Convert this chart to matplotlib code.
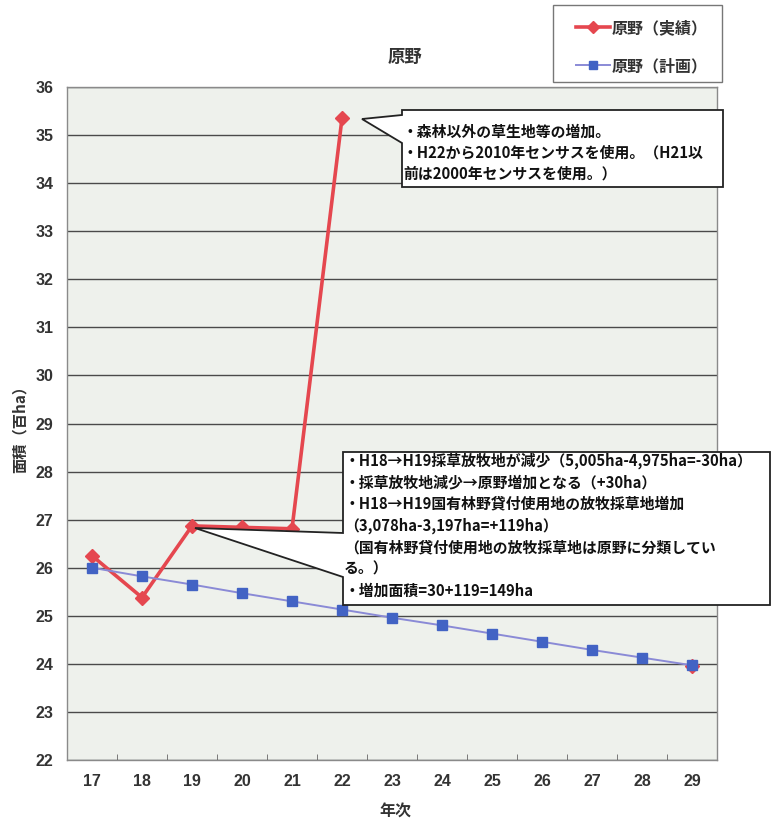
import numpy as np
import matplotlib
matplotlib.use("Agg")
import matplotlib.pyplot as plt
from matplotlib.patches import Polygon, Rectangle
from matplotlib.lines import Line2D

plt.rcParams['font.family'] = ['Noto Sans CJK JP', 'DejaVu Sans']

years = ['17', '18', '19', '20', '21', '22', '23', '24', '25', '26', '27', '28', '29']
actual = [26.25, 25.38, 26.87, 26.84, 26.81, 35.35, np.nan, np.nan, np.nan, np.nan, np.nan, np.nan, 23.95]
plan = [26.0, 25.82, 25.65, 25.47, 25.30, 25.13, 24.96, 24.80, 24.63, 24.46, 24.29, 24.13, 23.97]
yticks = list(range(22, 37))

title = '原野'
label_actual = '原野（実績）'
label_plan = '原野（計画）'
ylabel = '面積（百ha）'
xlabel = '年次'
note1 = ('・森林以外の草生地等の増加。\n'
         '・H22から2010年センサスを使用。（H21以\n'
         '前は2000年センサスを使用。）')
note2 = ('・H18→H19採草放牧地が減少（5,005ha-4,975ha=-30ha）\n'
         '・採草放牧地減少→原野増加となる（+30ha）\n'
         '・H18→H19国有林野貸付使用地の放牧採草地増加\n'
         '（3,078ha-3,197ha=+119ha）\n'
         '（国有林野貸付使用地の放牧採草地は原野に分類してい\n'
         'る。）\n'
         '・増加面積=30+119=149ha')

W, H = 771, 827
fig = plt.figure(figsize=(W / 100, H / 100), dpi=100)
fig.patch.set_facecolor('white')

L, R, T, B = 67, 717, 87, 760
ax = fig.add_axes([L / W, 1 - B / H, (R - L) / W, (B - T) / H])
ax.set_facecolor('#eef1ec')

x = np.arange(len(years))
red = '#e5474f'
blue_m = '#4263c4'
blue_l = '#8a8ad6'

ax.plot(x, actual, color=red, lw=2.6, marker='D', ms=7, mfc=red, mec=red, zorder=3)
ax.plot(x, plan, color=blue_l, lw=1.4, zorder=4)
ax.plot(x, plan, ls='none', marker='s', ms=7, mfc=blue_m, mec=blue_m, zorder=5)

ax.set_xlim(-0.5, len(years) - 0.5)
ax.set_ylim(22, 36)
ax.set_yticks(yticks)
ax.set_yticklabels([str(v) for v in yticks], family='Liberation Sans', weight='bold',
                   fontsize=11.5, color='#333333')
ax.set_xticks(x)
ax.set_xticklabels(years, family='Liberation Sans', weight='bold', fontsize=11.5, color='#333333')
ax.set_xticks(np.arange(-0.5, len(years), 1.0), minor=True)
ax.tick_params(axis='x', which='major', length=0, pad=10)
ax.tick_params(axis='x', which='minor', length=4, direction='in', color='#666666')
ax.tick_params(axis='y', length=0, pad=10)
ax.grid(axis='y', color='#4a4a4a', lw=1.0, zorder=1)
ax.set_axisbelow(True)
for s in ax.spines.values():
    s.set_color('#8a8a8a')
    s.set_linewidth(1.0)


def px2ax(px, py):
    return ((px - L) / (R - L), (B - py) / (B - T))


def callout(box, wedge, tip, text, tx, ty, ls):
    l, t, r, b = box
    w1, w2 = wedge
    pts = [px2ax(l, t), px2ax(r, t), px2ax(r, b), px2ax(l, b),
           px2ax(l, w2), px2ax(*tip), px2ax(l, w1)]
    poly = Polygon(pts, closed=True, transform=ax.transAxes, facecolor='white',
                   edgecolor='#222222', lw=1.3, clip_on=False, zorder=6)
    ax.add_patch(poly)
    ax.text(*px2ax(tx, ty), text, transform=ax.transAxes, fontsize=10.7, weight='bold',
            color='#111111', va='top', ha='left', linespacing=ls, zorder=7, clip_on=False)


callout((402, 110, 723, 187), (115, 143), (362, 119), note1, 403, 124, 1.38)
callout((343, 452, 770, 605), (533, 577), (195, 528), note2, 344, 452, 1.43)

fig.text(405 / W, 1 - 57 / H, title, ha='center', va='center', fontsize=12.5,
         weight='bold', color='#333333')
fig.text(20 / W, 1 - 425 / H, ylabel, ha='center', va='center', rotation=90,
         fontsize=11, weight='bold', color='#333333')
fig.text(395 / W, 1 - 812 / H, xlabel, ha='center', va='center', fontsize=11.5,
         weight='bold', color='#333333')

# legend frame
fig.patches.append(Rectangle((553 / W, 1 - 82 / H), (722 - 553) / W, (82 - 5) / H,
                             transform=fig.transFigure, facecolor='white',
                             edgecolor='#777777', lw=1.0, zorder=0))
handles = [Line2D([], [], color=red, lw=2.6, marker='D', ms=6, mfc=red, mec=red),
           Line2D([], [], color=blue_l, lw=1.4, marker='s', ms=6, mfc=blue_m, mec=blue_m)]
leg = fig.legend(handles, [label_actual, label_plan], loc='upper left',
                 bbox_to_anchor=(576 / W, 1 - 20 / H), borderaxespad=0, frameon=False,
                 labelspacing=1.38, handlelength=2.1, handletextpad=0.15, borderpad=0,
                 prop={'weight': 'bold', 'size': 11.5})
for t_ in leg.get_texts():
    t_.set_color('#333333')

fig.savefig('out.png', dpi=100, facecolor='white')
